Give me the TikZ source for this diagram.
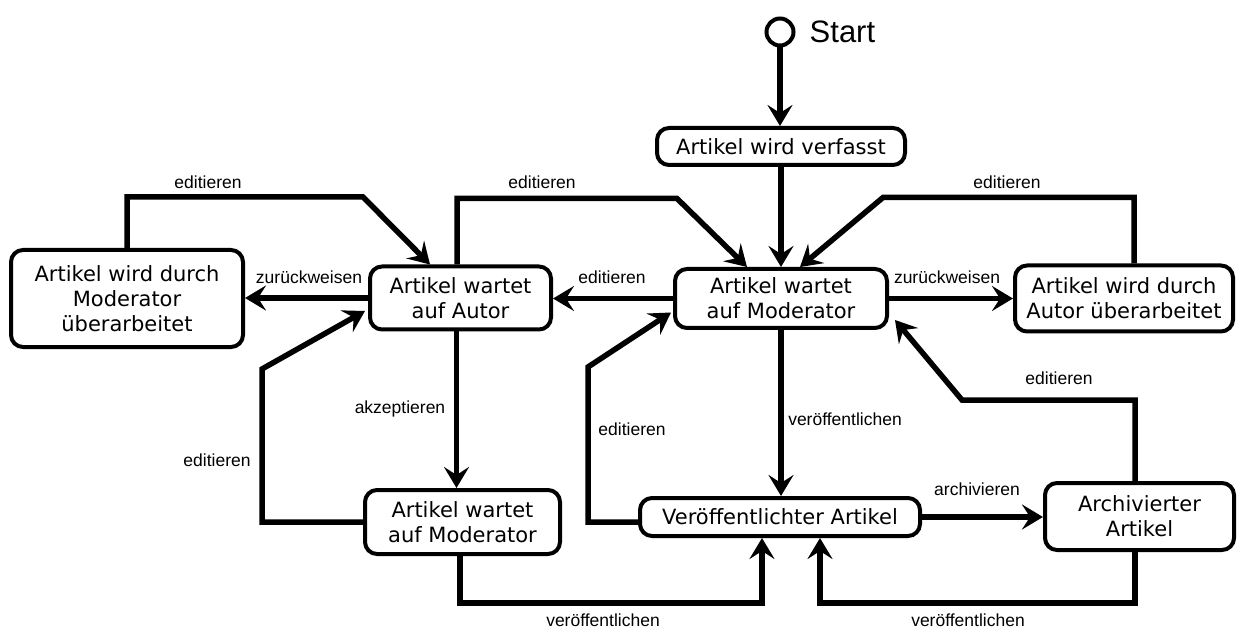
\documentclass[tikz,border=0pt]{standalone}
\usepackage{fontspec}
\setmainfont{DejaVu Sans}
\newfontfamily\lblfont{Liberation Sans}
\usetikzlibrary{arrows.meta,calc}

\begin{document}
\begin{tikzpicture}[x=1pt,y=-1pt,
    state/.style={draw, line width=4pt, rounded corners=12pt, align=center, inner sep=0pt,
        font=\fontsize{21}{25}\selectfont},
    flow/.style={line width=5.5pt, -{Stealth[length=21pt,width=25pt,inset=8pt]}},
    lbl/.style={inner sep=0pt, font=\lblfont\fontsize{17.5}{20}\selectfont}]
    \useasboundingbox (0,0) rectangle (1245,628);

    % start and the states
    \node[circle, draw, line width=4pt, minimum size=27pt, inner sep=0pt] (start) at (780,32) {};
    \node[anchor=west, inner sep=0pt, font=\lblfont\fontsize{31}{36}\selectfont] (starttxt) at ($(start.east)+(14,0)$) {Start};
    \node[state, minimum width=248pt, minimum height=37pt] (verfasst) at (781,146.5) {Artikel wird verfasst};
    \node[state, minimum width=232pt, minimum height=97pt] (modUeber) at (127,298.5) {Artikel wird durch\\Moderator\\überarbeitet};
    \node[state, minimum width=181pt, minimum height=63pt] (autor) at (460.5,298) {Artikel wartet\\auf Autor};
    \node[state, minimum width=212pt, minimum height=59pt] (moderator) at (781,298.5) {Artikel wartet\\auf Moderator};
    \node[state, minimum width=218pt, minimum height=66pt] (autorUeber) at (1124,298.5) {Artikel wird durch\\Autor überarbeitet};
    \node[state, minimum width=195pt, minimum height=64pt] (moderatorB) at (462.5,522) {Artikel wartet\\auf Moderator};
    \node[state, minimum width=280pt, minimum height=38pt] (veroeff) at (780,517) {Veröffentlichter Artikel};
    \node[state, minimum width=189pt, minimum height=67pt] (archiv) at (1139.5,516.5) {Archivierter\\Artikel};

    % points where connectors leave a box off its centre
    \coordinate (akz) at ($(autor.south)+(-4,0)$);

    % transitions
    \draw[flow] (start) -- (start |- verfasst.north);
    \draw[flow] (verfasst.south) -- (verfasst.south |- moderator.north);
    \draw[flow] (modUeber.north) -- ++(0,-51) -- ++(236,0) -- ($(autor.north)+(-30.5,0)$);
    \draw[flow] ($(autor.north)+(-3.5,0)$) -- ++(0,-66) -- ++(220,0) -- ($(moderator.north)+(-34,0)$);
    \draw[flow] ($(autorUeber.north)+(10,0)$) -- ++(0,-66) -- ++(-251,0) -- ($(moderator.north)+(19,0)$);
    \draw[flow] (autor.west) -- (autor.west -| modUeber.east);
    \draw[flow] (moderator.west) -- (moderator.west -| autor.east);
    \draw[flow] (moderator.east) -- (moderator.east -| autorUeber.west);
    \draw[flow] (akz) -- (akz |- moderatorB.north);
    \draw[flow] (moderatorB.west) -- ++(-101,0) -- ++(0,-153) -- ($(autor.west)+(-3,13)$);
    \draw[flow] (moderator.south) -- (moderator.south |- veroeff.north);
    \draw[flow] ($(veroeff.west)+(0,5)$) -- ++(-50,0) -- ++(0,-155) -- ($(moderator.west)+(-2,14)$);
    \draw[flow] ($(moderatorB.south)+(-2.5,0)$) -- ++(0,47) -| ($(veroeff.south)+(-18,0)$);
    \draw[flow] (veroeff.east) -- (veroeff.east -| archiv.west);
    \draw[flow] ($(archiv.south)+(-4.5,0)$) -- ++(0,51) -| ($(veroeff.south)+(40,0)$);
    \draw[flow] ($(archiv.north)+(-4.5,0)$) -- ++(0,-81) -- ++(-173,0) -- ($(moderator.east)+(6,21.5)$);

    % transition labels
    \node[lbl] (l1) at (208,182) {editieren};
    \node[lbl] (l2) at (542,182) {editieren};
    \node[lbl] (l3) at (1007,182) {editieren};
    \node[lbl] (l4) at (309,277) {zurückweisen};
    \node[lbl] (l5) at (612,277) {editieren};
    \node[lbl] (l6) at (947,277) {zurückweisen};
    \node[lbl] (l7) at (400,409) {akzeptieren};
    \node[lbl] (l8) at (217,460) {editieren};
    \node[lbl] (l9) at (632,429) {editieren};
    \node[lbl] (l10) at (845,419) {veröffentlichen};
    \node[lbl] (l11) at (977,489) {archivieren};
    \node[lbl] (l12) at (1059,378) {editieren};
    \node[lbl] (l13) at (603,620) {veröffentlichen};
    \node[lbl] (l14) at (968,620) {veröffentlichen};
\end{tikzpicture}
\end{document}
